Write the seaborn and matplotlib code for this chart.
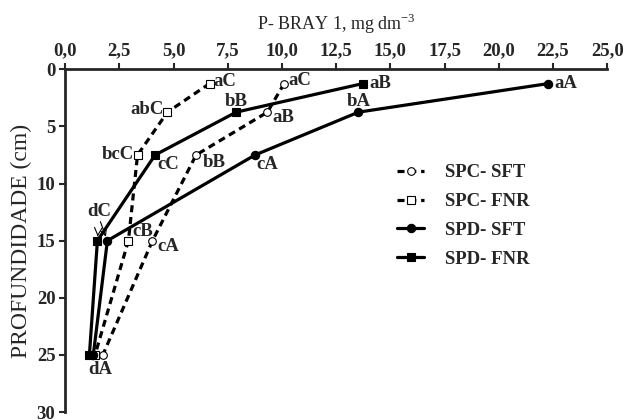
import matplotlib
matplotlib.use("Agg")
import matplotlib.pyplot as plt
import seaborn as sns
import numpy as np

sns.set_style("ticks")
plt.rcParams['font.family'] = ['Liberation Serif', 'DejaVu Serif']
plt.rcParams['mathtext.fontset'] = 'custom'
plt.rcParams['mathtext.rm'] = 'Liberation Serif'

depth = [1.25, 3.75, 7.5, 15, 25]
spc_sft = [10.1, 9.33, 6.04, 4.03, 1.74]
spc_fnr = [6.66, 4.72, 3.34, 2.92, 1.38]
spd_sft = [22.28, 13.53, 8.76, 1.95, 1.30]
spd_fnr = [13.73, 7.89, 4.15, 1.49, 1.12]

lab_spc_sft = ["aC", "aB", "bB", "cA", ""]
lab_spc_fnr = ["aC", "abC", "bcC", "cB", ""]
lab_spd_sft = ["aA", "bA", "cA", "", ""]
lab_spd_fnr = ["aB", "bB", "cC", "", ""]

xticks = [0, 2.5, 5, 7.5, 10, 12.5, 15, 17.5, 20, 22.5, 25]
xticklabels = ["0,0", "2,5", "5,0", "7,5", "10,0", "12,5", "15,0", "17,5", "20,0", "22,5", "25,0"]
yticks = [0, 5, 10, 15, 20, 25, 30]

fig = plt.figure(figsize=(6.26, 4.2), dpi=100)
ax = fig.add_axes([0.104, 0.019, 0.866, 0.816])

dash = (0, (2.2, 1.5))
common = dict(ax=ax, sort=False, estimator=None, color='black', lw=2.3,
              markeredgecolor='black', markeredgewidth=0.8)
sns.lineplot(x=spc_sft, y=depth, linestyle=dash, marker='o', markersize=5.5,
             markerfacecolor='white', label='SPC- SFT', **common)
sns.lineplot(x=spc_fnr, y=depth, linestyle=dash, marker='s', markersize=5.5,
             markerfacecolor='white', label='SPC- FNR', **common)
sns.lineplot(x=spd_sft, y=depth, linestyle='-', marker='o', markersize=6,
             markerfacecolor='black', label='SPD- SFT', **common)
sns.lineplot(x=spd_fnr, y=depth, linestyle='-', marker='s', markersize=6,
             markerfacecolor='black', label='SPD- FNR', **common)

ax.set_xlim(0, 25)
ax.set_ylim(30, 0)
ax.xaxis.tick_top()
ax.xaxis.set_label_position('top')
ax.set_xticks(xticks)
ax.set_xticklabels(xticklabels, fontweight='bold', fontsize=13.5)
ax.set_yticks(yticks)
ax.set_yticklabels([str(v) for v in yticks], fontweight='bold', fontsize=13.5)
ax.tick_params(axis='both', direction='out', length=4, width=1.5, pad=3)
for s in ['right', 'bottom']:
    ax.spines[s].set_visible(False)
for s in ['left', 'top']:
    ax.spines[s].set_linewidth(2)
ax.set_xlabel("P- BRAY 1, mg dm$^{-3}$", fontsize=13, labelpad=9)
ax.set_ylabel("PROFUNDIDADE (cm)", fontsize=17, labelpad=3)

fs = 13.5
def lab(x, y, t, dx, dy, ha='left', va='center'):
    if t:
        ax.annotate(t, (x, y), xytext=(dx, dy), textcoords='offset pixels',
                    ha=ha, va=va, fontsize=fs, fontweight='bold')

# SPC-FNR
offs = [(4, 2, 'left'), (-4, 3, 'right'), (-4, 0, 'right'), (4, 9, 'left')]
for i, (dx, dy, ha) in enumerate(offs):
    lab(spc_fnr[i], depth[i], lab_spc_fnr[i], dx, dy, ha)
# SPC-SFT
offs = [(4, 3, 'left'), (5, -5, 'left'), (7, -8, 'left'), (5, -6, 'left')]
for i, (dx, dy, ha) in enumerate(offs):
    lab(spc_sft[i], depth[i], lab_spc_sft[i], dx, dy, ha)
# SPD-SFT
offs = [(6, 0, 'left'), (0, 11, 'center'), (1, -10, 'left')]
for i, (dx, dy, ha) in enumerate(offs):
    lab(spd_sft[i], depth[i], lab_spd_sft[i], dx, dy, ha)
# SPD-FNR
offs = [(7, 0, 'left'), (0, 11, 'center'), (2, -10, 'left')]
for i, (dx, dy, ha) in enumerate(offs):
    lab(spd_fnr[i], depth[i], lab_spd_fnr[i], dx, dy, ha)

# dC with arrows
ax.annotate("dC", (spd_fnr[3], depth[3]), xytext=(2, 29), textcoords='offset pixels',
            ha='center', va='center', fontsize=fs, fontweight='bold',
            arrowprops=dict(arrowstyle='->', lw=0.8, color='black', shrinkA=9, shrinkB=3))
ax.annotate("", xy=(spd_sft[3], depth[3]), xycoords='data',
            xytext=(-7, 19), textcoords='offset pixels',
            arrowprops=dict(arrowstyle='->', lw=0.8, color='black', shrinkA=0, shrinkB=3))
# dA
ax.annotate("dA", (spc_sft[4], depth[4]), xytext=(-3, -15), textcoords='offset pixels',
            ha='center', va='center', fontsize=fs, fontweight='bold')

leg = ax.legend(loc='upper left', bbox_to_anchor=(0.581, 0.772), frameon=False,
                handlelength=1.45, handletextpad=1.1, labelspacing=0.62,
                prop={'weight': 'bold', 'size': 13.5})

fig.savefig("out.png", dpi=100)
